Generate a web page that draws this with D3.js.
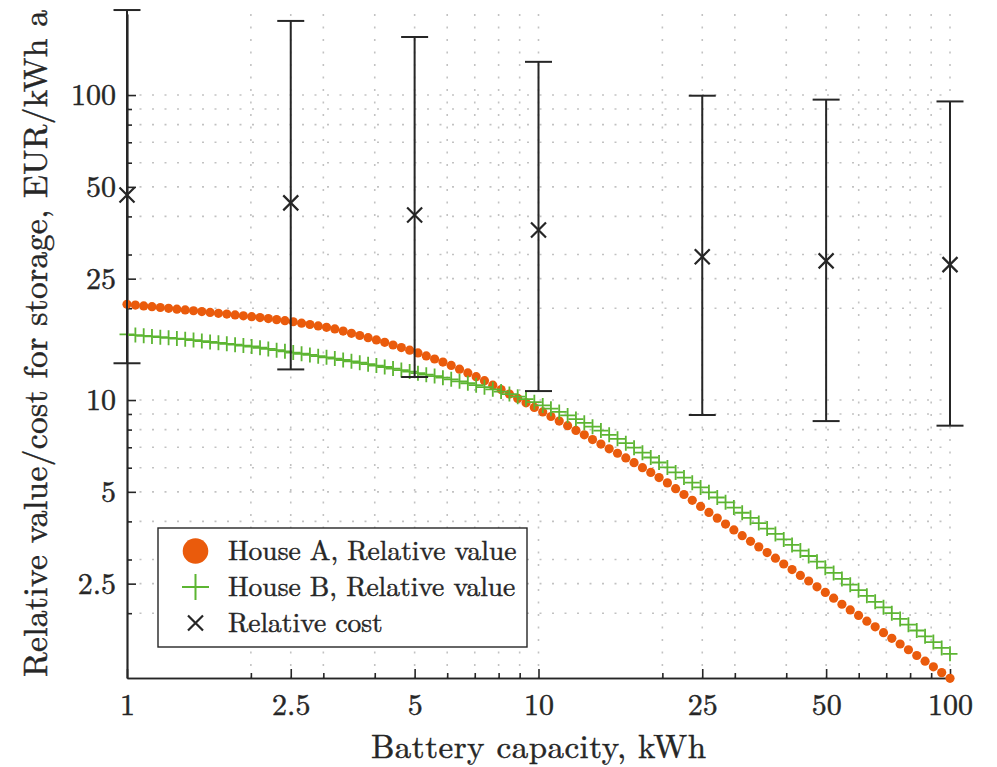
<!DOCTYPE html>
<html>
<head>
<meta charset="utf-8">
<title>Relative value and cost of battery storage</title>
<script src="https://cdn.jsdelivr.net/npm/d3@7"></script>
<style>
  body { margin: 0; background: #fff; }
</style>
</head>
<body>
<svg id="chart" width="997" height="767"></svg>
<script>
// battery sizes (kWh), log-spaced sample points of the simulation
var capacity = [1, 1.048, 1.098, 1.150, 1.205, 1.262, 1.322, 1.385, 1.451, 1.520,
  1.592, 1.668, 1.748, 1.831, 1.918, 2.009, 2.105, 2.205, 2.310, 2.420,
  2.535, 2.656, 2.783, 2.915, 3.054, 3.199, 3.352, 3.511, 3.678, 3.854,
  4.037, 4.229, 4.431, 4.642, 4.863, 5.094, 5.337, 5.591, 5.857, 6.136,
  6.428, 6.734, 7.055, 7.391, 7.743, 8.111, 8.498, 8.902, 9.326, 9.770,
  10.24, 10.72, 11.23, 11.77, 12.33, 12.92, 13.53, 14.18, 14.85, 15.56,
  16.30, 17.07, 17.89, 18.74, 19.63, 20.57, 21.54, 22.57, 23.64, 24.77,
  25.95, 27.19, 28.48, 29.84, 31.26, 32.75, 34.30, 35.94, 37.65, 39.44,
  41.32, 43.29, 45.35, 47.51, 49.77, 52.14, 54.62, 57.22, 59.95, 62.80,
  65.79, 68.93, 72.21, 75.65, 79.25, 83.02, 86.98, 91.12, 95.45, 100];

// relative value of storage, EUR/kWh a
var houseA = [20.61, 20.48, 20.35, 20.23, 20.11, 19.99, 19.86, 19.74, 19.62, 19.50,
  19.37, 19.25, 19.13, 19.01, 18.88, 18.77, 18.63, 18.49, 18.35, 18.21,
  18.06, 17.87, 17.69, 17.50, 17.32, 17.11, 16.83, 16.55, 16.28, 16.01,
  15.74, 15.46, 15.15, 14.86, 14.57, 14.27, 13.95, 13.63, 13.32, 12.99,
  12.62, 12.27, 11.93, 11.57, 11.19, 10.82, 10.46, 10.12, 9.79, 9.46,
  9.14, 8.83, 8.53, 8.24, 7.95, 7.69, 7.42, 7.17, 6.92, 6.69,
  6.46, 6.23, 6.00, 5.79, 5.57, 5.35, 5.12, 4.90, 4.69, 4.48,
  4.28, 4.10, 3.92, 3.75, 3.59, 3.44, 3.30, 3.16, 3.03, 2.90,
  2.78, 2.66, 2.55, 2.44, 2.34, 2.24, 2.14, 2.05, 1.966, 1.883,
  1.804, 1.727, 1.654, 1.585, 1.518, 1.453, 1.392, 1.334, 1.277, 1.223];

var houseB = [16.41, 16.33, 16.24, 16.16, 16.07, 15.99, 15.91, 15.83, 15.72, 15.61,
  15.50, 15.40, 15.29, 15.19, 15.08, 14.98, 14.84, 14.71, 14.57, 14.44,
  14.31, 14.18, 14.06, 13.93, 13.80, 13.67, 13.53, 13.39, 13.25, 13.11,
  12.97, 12.83, 12.68, 12.54, 12.40, 12.25, 12.11, 11.98, 11.84, 11.69,
  11.52, 11.35, 11.19, 11.02, 10.84, 10.66, 10.46, 10.26, 10.07, 9.84,
  9.60, 9.37, 9.14, 8.90, 8.66, 8.42, 8.18, 7.94, 7.69, 7.46,
  7.22, 6.98, 6.72, 6.48, 6.24, 6.01, 5.79, 5.57, 5.36, 5.17,
  4.98, 4.79, 4.62, 4.44, 4.27, 4.11, 3.95, 3.79, 3.64, 3.49,
  3.35, 3.21, 3.08, 2.95, 2.82, 2.71, 2.59, 2.48, 2.38, 2.28,
  2.18, 2.09, 2.00, 1.915, 1.834, 1.755, 1.680, 1.608, 1.539, 1.472];

// relative cost with its low / high range
var costCapacity = [1, 2.5, 5, 10, 25, 50, 100];
var costMid = [47.0, 44.3, 40.4, 36.1, 29.5, 28.6, 27.8];
var costLow = [13.2, 12.6, 11.9, 10.7, 8.93, 8.53, 8.24];
var costHigh = [190, 175, 155, 128.5, 99.5, 96.6, 95.3];

var xTicks = [1, 2.5, 5, 10, 25, 50, 100];
var yTicks = [2.5, 5, 10, 25, 50, 100];
var minorTicks = [2, 3, 4, 6, 7, 8, 9, 20, 30, 40, 60, 70, 80, 90];
var legendLabels = ["House A, Relative value", "House B, Relative value", "Relative cost"];

var orange = "#ea5b0c", green = "#5cb532", ink = "#262626";
var texFont = "'Latin Modern Roman', 'Liberation Serif', serif";

var svg = d3.select("#chart");
var plotL = 127, plotR = 950, plotT = 14, plotB = 678;

var x = d3.scaleLog().domain([1, 100]).range([plotL, plotR]);
var y = d3.scaleLog().domain([1.2262, 184.4]).range([plotB, plotT]);

svg.append("rect").attr("width", 997).attr("height", 767).attr("fill", "#fff");

// dotted grid, major and minor
var gridVals = minorTicks.concat([2.5, 5, 10, 25, 50, 100]);
var grid = svg.append("g")
  .attr("stroke", "#000")
  .attr("stroke-opacity", 0.24)
  .attr("stroke-width", 1.6)
  .attr("stroke-dasharray", "2 10.5");
grid.selectAll(".gx").data(gridVals).join("line")
  .attr("class", "gx")
  .attr("x1", d => x(d)).attr("x2", d => x(d))
  .attr("y1", plotT).attr("y2", plotB);
grid.selectAll(".gy").data(gridVals).join("line")
  .attr("class", "gy")
  .attr("x1", plotL).attr("x2", plotR)
  .attr("y1", d => y(d)).attr("y2", d => y(d));

// axes: labelled ticks plus short minor ticks, all pointing inward
function styleAxis(g) {
  g.attr("font-size", 30);
  g.selectAll(".domain").attr("stroke", ink).attr("stroke-width", 1.7);
  g.selectAll(".tick line").attr("stroke", ink).attr("stroke-width", 1.6);
  g.selectAll(".tick text").attr("fill", ink);
}

svg.append("g")
  .attr("transform", "translate(0," + plotB + ")")
  .call(d3.axisBottom(x).tickValues(xTicks).tickFormat(d3.format(""))
    .tickSize(-9).tickSizeOuter(0).tickPadding(16))
  .call(styleAxis);
svg.append("g")
  .attr("transform", "translate(0," + plotB + ")")
  .call(d3.axisBottom(x).tickValues(minorTicks).tickSize(-5).tickSizeOuter(0))
  .call(styleAxis)
  .call(g => g.selectAll(".tick text").remove());

svg.append("g")
  .attr("transform", "translate(" + plotL + ",0)")
  .call(d3.axisLeft(y).tickValues(yTicks).tickFormat(d3.format(""))
    .tickSize(-9).tickSizeOuter(0).tickPadding(11))
  .call(styleAxis);
svg.append("g")
  .attr("transform", "translate(" + plotL + ",0)")
  .call(d3.axisLeft(y).tickValues(minorTicks).tickSize(-5).tickSizeOuter(0))
  .call(styleAxis)
  .call(g => g.selectAll(".tick text").remove());

// House A: filled circles
svg.append("g").selectAll("circle").data(capacity).join("circle")
  .attr("cx", d => x(d))
  .attr("cy", (d, i) => y(houseA[i]))
  .attr("r", 4.6)
  .attr("fill", orange);

// House B: plus markers
svg.append("g").selectAll("path").data(capacity).join("path")
  .attr("d", (d, i) => {
    var cx = x(d), cy = y(houseB[i]);
    return "M" + (cx - 7.5) + "," + cy + "h15M" + cx + "," + (cy - 7.5) + "v15";
  })
  .attr("fill", "none")
  .attr("stroke", green)
  .attr("stroke-width", 1.8);

// relative cost: error bars with cross at the middle value
var bars = svg.append("g").attr("stroke", ink).attr("fill", "none");
costCapacity.forEach(function (c, i) {
  var cx = x(c), lo = y(costLow[i]), hi = y(costHigh[i]), mid = y(costMid[i]);
  bars.append("line").attr("x1", cx).attr("x2", cx).attr("y1", lo).attr("y2", hi)
    .attr("stroke-width", 2);
  bars.append("line").attr("x1", cx - 13.5).attr("x2", cx + 13.5).attr("y1", lo).attr("y2", lo)
    .attr("stroke-width", 2);
  bars.append("line").attr("x1", cx - 13.5).attr("x2", cx + 13.5).attr("y1", hi).attr("y2", hi)
    .attr("stroke-width", 2);
  bars.append("path")
    .attr("d", "M" + (cx - 7.5) + "," + (mid - 7.5) + "l15,15M" + (cx - 7.5) + "," + (mid + 7.5) + "l15,-15")
    .attr("stroke-width", 2.2);
});

// legend
var legend = svg.append("g");
legend.append("rect")
  .attr("x", 158).attr("y", 528).attr("width", 369).attr("height", 119)
  .attr("fill", "#fff").attr("stroke", ink).attr("stroke-width", 1.4);
var rowY = [551, 587, 623];
legend.append("circle").attr("cx", 195.5).attr("cy", rowY[0]).attr("r", 12.8).attr("fill", orange);
legend.append("path")
  .attr("d", "M182," + rowY[1] + "h27M195.5," + (rowY[1] - 13) + "v26")
  .attr("stroke", green).attr("stroke-width", 2);
legend.append("path")
  .attr("d", "M188," + (rowY[2] - 7.5) + "l15,15M188," + (rowY[2] + 7.5) + "l15,-15")
  .attr("stroke", ink).attr("stroke-width", 2.2);
legend.selectAll("text").data(legendLabels).join("text")
  .attr("x", 228)
  .attr("y", (d, i) => rowY[i] + 9)
  .attr("font-size", 27.5)
  .attr("fill", ink)
  .text(d => d);

// axis titles
svg.append("text")
  .attr("x", (plotL + plotR) / 2).attr("y", 757.5)
  .attr("text-anchor", "middle")
  .attr("font-size", 33)
  .attr("textLength", 335).attr("lengthAdjust", "spacing")
  .attr("fill", ink)
  .text("Battery capacity, kWh");

svg.append("text")
  .attr("transform", "translate(47,343.5) rotate(-90)")
  .attr("text-anchor", "middle")
  .attr("font-size", 33.5)
  .attr("textLength", 667).attr("lengthAdjust", "spacing")
  .attr("fill", ink)
  .text("Relative value/cost for storage, EUR/kWh a");

// LaTeX-style serif face on every label, slightly thickened stroke
svg.selectAll("text")
  .style("font-family", texFont, "important")
  .attr("stroke", ink)
  .attr("stroke-width", 0.45);
</script>
</body>
</html>
